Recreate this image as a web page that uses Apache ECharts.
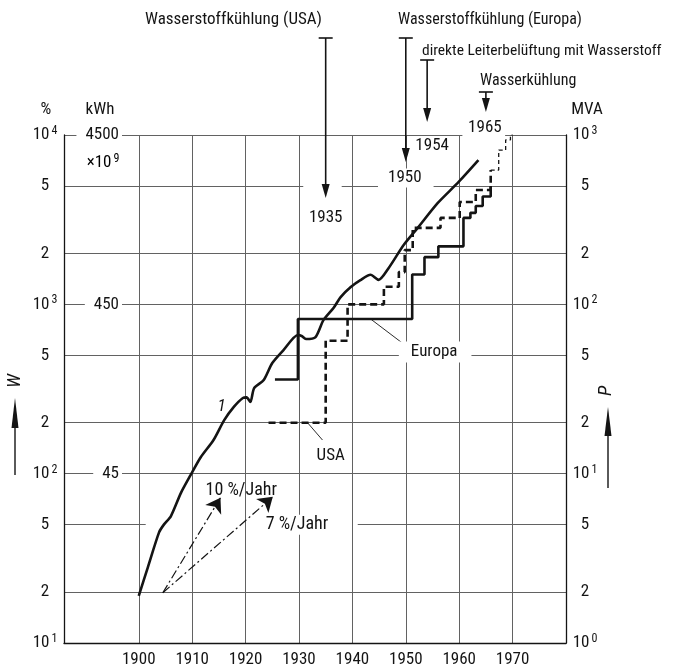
<!DOCTYPE html>
<html><head><meta charset="utf-8">
<script src="https://cdn.jsdelivr.net/npm/echarts@6/dist/echarts.min.js"></script>
<style>html,body{margin:0;padding:0;background:#fff}#c{width:675px;height:670px}</style>
</head><body><div id="c"></div>
<script>
// ---------- data ----------
const xTicks = [1900,1910,1920,1930,1940,1950,1960,1970];
const wTicks = [10,20,50,100,200,500,1000,2000,5000,10000];
const pTicks = [1,2,5,10,20,50,100,200,500,1000];
const kwhTicks = [100,1000,10000];
const kwhLabels = ['45','450','4500'];

// curve 1: W in %
const curve1 = [[1900,19],[1901.7,28],[1903.8,45],[1904.7,50],[1906,56],[1907.9,77],[1909.7,98],[1911.6,125],[1914,158],[1916,207],[1917.8,248],[1919.5,280],[1920.2,282],[1920.9,265],[1921.6,320],[1923.4,357],[1925,450],[1927.1,537],[1929.8,659],[1930.5,650],[1931.3,624],[1933.1,641],[1934.6,809],[1936.5,955],[1937.8,1104],[1939.7,1265],[1941.5,1390],[1943.4,1494],[1944.9,1394],[1946.8,1640],[1949.6,2240],[1952.2,2820],[1956,3970],[1959.9,5280],[1963.6,7100]];
// P in MVA (step series)
const europa = [[1925.5,36],[1929.8,82],[1951.2,150],[1953.5,190],[1956.1,220],[1960.8,324],[1962.1,347],[1963.1,381],[1964.4,433],[1965.9,500]];
const usa = [[1924.3,20],[1935.0,61],[1939.1,100],[1945.9,127],[1948.7,155],[1949.8,209],[1951.3,283],[1956.5,324],[1960.1,402],[1963.1,473],[1965.9,621]];
const usaExt = [[1965.9,621],[1967.4,815],[1968.7,935],[1969.6,1000],[1970,1000]];
// growth-rate arrows [start, end] in %
const rate10 = [[1904.5,19.8],[1915.3,72]];
const rate7 = [[1904.5,19.8],[1925.1,73]];
// annotation years
const annYears = [1935,1950,1954,1965];
const annTexts = ['Wasserstoffkühlung (USA)','Wasserstoffkühlung (Europa)','direkte Leiterbelüftung mit Wasserstoff','Wasserkühlung'];
const annLabels = ['1935','1950','1954','1965'];

// ---------- layout ----------
const FONT = "'Roboto Condensed','DejaVu Sans Condensed',sans-serif";
const INK = '#141414';
const GRID = '#626262';
const RICH = {
  a:{fontSize:17,fontFamily:FONT,color:INK,lineHeight:20},
  s:{fontSize:12,fontFamily:FONT,color:INK,verticalAlign:'top',lineHeight:20,padding:[0,0,0,2]}
};
function powLabel(v){
  const e = Math.floor(Math.log10(v)+1e-6);
  const m = Math.round(v/Math.pow(10,e));
  return m===1 ? '{a|10}{s|'+e+'}' : '{a|'+m+'}';
}
const annLayout = [
  {textLeft:145,textY:20,size:17,barY:38,tipY:198,labelY:218,labelDx:0,bg:false},
  {textLeft:398,textY:20,size:16,barY:38,tipY:162,labelY:178,labelDx:0,bg:true},
  {textLeft:422,textY:51,size:15.5,barY:60,tipY:122,labelY:146,labelDx:5,bg:false},
  {textLeft:480,textY:81,size:16,barY:92,tipY:112,labelY:128,labelDx:-1,bg:false}
];
const gaps = [[1930.8,1938,5000],[1901.3,1941,50],[1960.6,1968.6,10000]];

const chart = echarts.init(document.getElementById('c'));
const arrowLine = {color:INK,width:1.2,type:[9,3,2,3]};
chart.setOption({
  backgroundColor:'#fff',
  animation:false,
  grid:{left:64,right:109,top:135,bottom:27},
  xAxis:{type:'value',min:1886,max:1980,z:2,
    axisLine:{lineStyle:{color:INK,width:1.3}},
    axisTick:{show:false,customValues:xTicks},
    axisLabel:{customValues:xTicks,formatter:v=>String(Math.round(v)),margin:8,fontSize:17,fontFamily:FONT,color:INK},
    splitLine:{show:true,lineStyle:{color:GRID,width:1}}},
  yAxis:[
    {type:'log',logBase:10,min:10,max:10000,position:'left',z:0,
      axisLine:{show:true,lineStyle:{color:INK,width:1.3}},
      axisTick:{show:false,customValues:wTicks},
      axisLabel:{customValues:wTicks,formatter:powLabel,margin:19,align:'center',rich:RICH},
      splitLine:{show:true,lineStyle:{color:GRID,width:1}}},
    {type:'log',logBase:10,min:1,max:1000,position:'right',z:0,
      axisLine:{show:true,lineStyle:{color:INK,width:1.3}},
      axisTick:{show:false,customValues:pTicks},
      axisLabel:{customValues:pTicks,formatter:powLabel,margin:19,align:'center',rich:RICH},
      splitLine:{show:false}},
    {type:'log',logBase:10,min:10,max:10000,position:'left',z:1,
      axisLine:{show:false},
      axisTick:{show:false,customValues:kwhTicks},
      axisLabel:{inside:true,customValues:kwhTicks,margin:58,align:'right',
        formatter:v=>kwhLabels[Math.round(Math.log10(v))-2],
        fontSize:17,fontFamily:FONT,color:INK,backgroundColor:'#fff',padding:[0,3,0,9]},
      splitLine:{show:false}}
  ],
  series:[
    {name:'1',type:'line',yAxisIndex:0,data:curve1,smooth:0.25,showSymbol:false,z:3,
      lineStyle:{color:INK,width:2.6},
      markLine:{silent:true,symbol:['none','arrow'],symbolSize:14,label:{show:false},
        lineStyle:arrowLine,
        data:[[{coord:rate10[0]},{coord:rate10[1]}],[{coord:rate7[0]},{coord:rate7[1]}]]}},
    {name:'Europa',type:'line',yAxisIndex:1,data:europa,step:'end',showSymbol:false,z:3,
      lineStyle:{color:INK,width:2.6},
      markLine:{silent:true,symbol:['none','none'],label:{show:false},lineStyle:{color:INK,width:0.9,type:'solid'},
        data:[[{coord:[1943.4,82]},{coord:[1950,57]}]]}},
    {name:'USA',type:'line',yAxisIndex:1,data:usa,step:'end',showSymbol:false,z:3,
      lineStyle:{color:INK,width:2.6,type:[7,4]},
      markLine:{silent:true,symbol:['none','none'],label:{show:false},lineStyle:{color:INK,width:0.9,type:'solid'},
        data:[[{coord:[1931.6,20]},{coord:[1934.4,15.8]}]]}},
    {name:'USA ext',type:'line',yAxisIndex:1,data:usaExt,step:'end',showSymbol:false,z:3,
      lineStyle:{color:INK,width:1.3,type:[4,3]}}
  ]
});

// ---------- annotations ----------
const px = (x,y,yi) => chart.convertToPixel({xAxisIndex:0,yAxisIndex:yi||0},[x,y]);
const T = (text,x,y,extra) => ({type:'text',z:10,style:Object.assign({text,x,y,fill:INK,fontSize:17,fontFamily:FONT,align:'left',verticalAlign:'middle'},extra||{})});
const g = [];
gaps.forEach(([a,b,v])=>{
  const p1 = px(a,v), p2 = px(b,v);
  g.push({type:'rect',z:1,shape:{x:p1[0],y:p1[1]-2.5,width:p2[0]-p1[0],height:5},style:{fill:'#fff'}});
});
annYears.forEach((yr,i)=>{
  const L = annLayout[i];
  const x = px(yr,100)[0];
  g.push(T(annTexts[i],L.textLeft,L.textY,{fontSize:L.size}));
  g.push({type:'line',z:10,shape:{x1:x-7,y1:L.barY,x2:x+7,y2:L.barY},style:{stroke:INK,lineWidth:1.6}});
  g.push({type:'line',z:10,shape:{x1:x,y1:L.barY,x2:x,y2:L.tipY-8},style:{stroke:INK,lineWidth:1.6}});
  g.push({type:'polygon',z:10,shape:{points:[[x-4,L.tipY-14],[x+4,L.tipY-14],[x,L.tipY]]},style:{fill:INK}});
  g.push(T(annLabels[i],x+L.labelDx,L.labelY,L.bg?{align:'center',backgroundColor:'#fff',padding:[1,12,1,10]}:{align:'center'}));
});
// axis headers
g.push(T('%',46,110,{align:'center'}));
g.push(T('kWh',100,110,{align:'center'}));
g.push(T('MVA',587,110,{align:'center'}));
g.push({type:'text',z:10,style:{text:'{a|×10}{s|9}',x:103,y:163,align:'center',verticalAlign:'middle',rich:RICH}});
// W / P titles with arrows (rotated, reading upwards)
g.push({type:'text',z:10,x:15,y:381,rotation:Math.PI/2,style:{text:'W',x:0,y:0,fill:INK,fontSize:19,fontStyle:'italic',fontFamily:FONT,align:'center',verticalAlign:'middle'}});
g.push({type:'line',z:10,shape:{x1:15,y1:475,x2:15,y2:412},style:{stroke:INK,lineWidth:1.4}});
g.push({type:'polygon',z:10,shape:{points:[[11.5,428],[18.5,428],[15,398]]},style:{fill:INK}});
g.push({type:'text',z:10,x:606,y:391,rotation:Math.PI/2,style:{text:'P',x:0,y:0,fill:INK,fontSize:19,fontStyle:'italic',fontFamily:FONT,align:'center',verticalAlign:'middle'}});
g.push({type:'line',z:10,shape:{x1:608,y1:488,x2:608,y2:420},style:{stroke:INK,lineWidth:1.4}});
g.push({type:'polygon',z:10,shape:{points:[[604.5,436],[611.5,436],[608,407]]},style:{fill:INK}});
// series labels
let p = px(1948.7,52.3,1); g.push(T('Europa',p[0],p[1],{backgroundColor:'#fff',padding:[2,14,2,12]}));
p = px(1933.3,12.7,1); g.push(T('USA',p[0],p[1]));
p = px(1915.5,250); g.push(T('1',p[0],p[1],{align:'center',fontStyle:'italic'}));
p = px(1912.5,80); g.push(T('10 %/Jahr',p[0],p[1],{fontSize:18}));
p = px(1923.2,50); g.push(T('7 %/Jahr',p[0],p[1],{fontSize:18,backgroundColor:'#fff',padding:[1,3,1,3]}));
chart.setOption({graphic:g});
</script></body></html>
